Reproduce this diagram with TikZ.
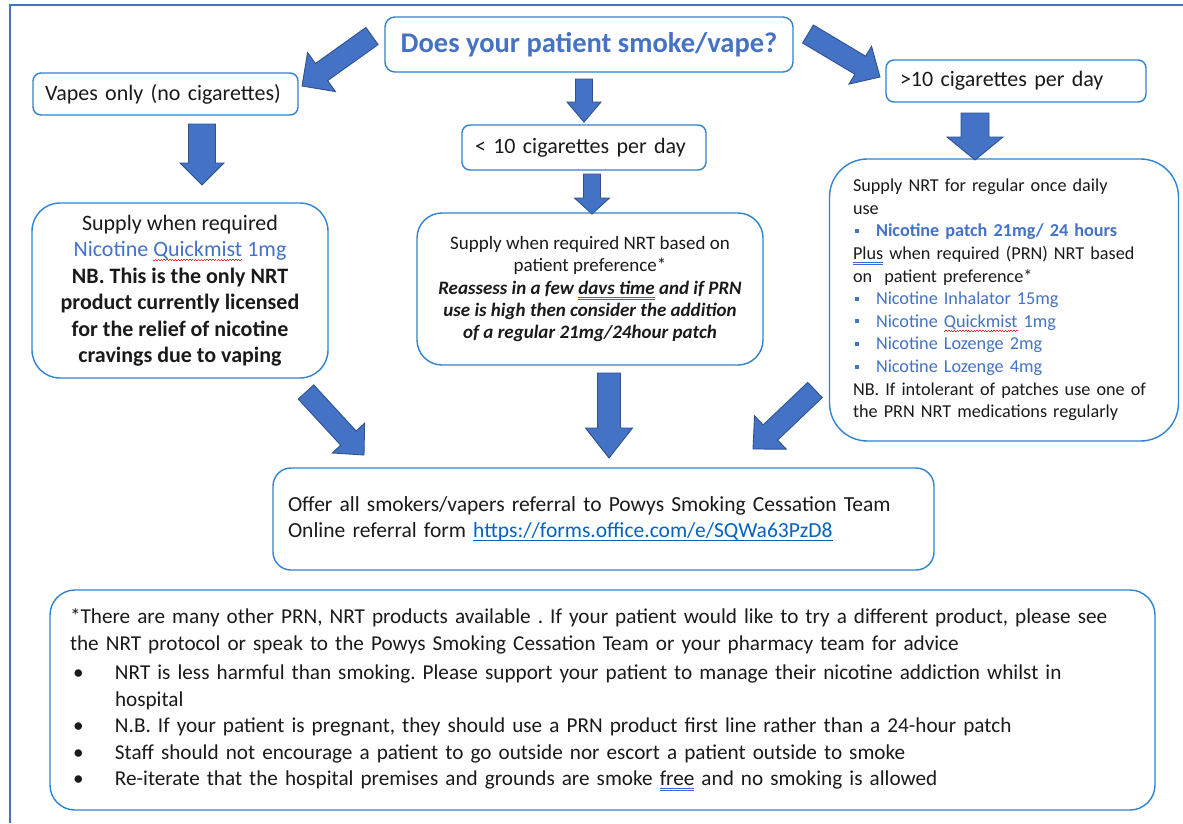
\documentclass[tikz,border=0pt]{standalone}
\usepackage{fontspec}
\setmainfont{Carlito}
\usetikzlibrary{calc}
\definecolor{boxblue}{HTML}{2F83D0}
\definecolor{txtblue}{HTML}{4472C4}
\definecolor{arrfill}{HTML}{4472C4}
\definecolor{arrline}{HTML}{2F528F}
\definecolor{frameblue}{HTML}{4472C4}
\definecolor{linkblue}{HTML}{0563C1}
\definecolor{txt}{HTML}{1A1A1A}
\definecolor{spellred}{HTML}{E03030}
\definecolor{gramblue}{HTML}{3A66E0}
\newsavebox\ulbox
\newcommand\redwave[1]{\leavevmode\sbox\ulbox{#1}\rlap{\textcolor{spellred}{\lower4.5pt\hbox to \wd\ulbox{\xleaders\hbox{\rule[0pt]{1.4pt}{0.8pt}\rule[1.2pt]{1.4pt}{0.8pt}}\hfill}}}\usebox\ulbox}
\newcommand\bluedbl[1]{\leavevmode\sbox\ulbox{#1}\rlap{\textcolor{gramblue}{\rule[-3.6pt]{\wd\ulbox}{0.9pt}}}\rlap{\textcolor{gramblue}{\rule[-5.8pt]{\wd\ulbox}{0.9pt}}}\usebox\ulbox}
\newcommand\linkul[1]{\leavevmode\sbox\ulbox{#1}\rlap{\rule[-2.8pt]{\wd\ulbox}{1pt}}\usebox\ulbox}
\newcommand\sqbul{\leavevmode\makebox[23pt][l]{\hspace{2pt}\rule[4pt]{4pt}{4pt}}}
\newcommand\bbul{\leavevmode\hspace*{3pt}\makebox[42pt][l]{•}}
\newcommand\blockarrow[5]{%
  \coordinate (hb) at ($(#2)!#5pt!(#1)$);
  \draw[blockarr] ($(#1)!#3pt!90:(#2)$) -- ($(hb)!#3pt!90:(#2)$) -- ($(hb)!#4pt!90:(#2)$) -- (#2) -- ($(hb)!#4pt!-90:(#2)$) -- ($(hb)!#3pt!-90:(#2)$) -- ($(#1)!#3pt!-90:(#2)$) -- cycle;}
\tikzset{
  box/.style={draw=boxblue, line width=1.4pt, fill=white, text=txt, inner sep=0pt, font=\fontsize{22}{26.5}\selectfont\frenchspacing},
  smallbox/.style={box, rounded corners=8pt},
  blockarr/.style={fill=arrfill, draw=arrline, line width=0.9pt, line join=miter},
}
\begin{document}
\frenchspacing
\begin{tikzpicture}[x=1pt,y=-1pt]
\useasboundingbox (0,0) rectangle (1183,823);
\fill[white] (0,0) rectangle (1183,823);
\draw[frameblue, line width=2.3pt] (10,823) -- (10,5) -- (1183,5);

% boxes
\node[box, rounded corners=10pt, minimum width=408pt, minimum height=55pt, text=txtblue, font=\fontsize{28.5}{32}\selectfont\bfseries] (title) at (589,44.5) {Does your patient smoke/vape?};
\node[smallbox, minimum width=265pt, minimum height=42pt, text width=241pt, align=left] (vapes) at (165.5,94) {Vapes only (no cigarettes)};
\node[smallbox, minimum width=244pt, minimum height=45pt, text width=218pt, align=left] (lt10) at (584,147.5) {< 10 cigarettes per day};
\node[smallbox, minimum width=260pt, minimum height=42pt, text width=232pt, align=left] (gt10) at (1016,81) {>10 cigarettes per day};

\node[box, rounded corners=28pt, minimum width=296pt, minimum height=175pt, align=center] (leftbox) at (180,290.5) {Supply when required\\
{\color{txtblue}Nicotine \redwave{Quickmist} 1mg}\\
\textbf{NB. This is the only NRT}\\
\textbf{product currently licensed}\\
\textbf{for the relief of nicotine}\\
\textbf{cravings due to vaping}};

\node[box, rounded corners=25pt, minimum width=346pt, minimum height=152pt, align=center, font=\fontsize{19}{22.3}\selectfont\frenchspacing] (midbox) at (590,289) {Supply when required NRT based on\\
patient preference*\\
\textbf{\textit{Reassess in a few \bluedbl{davs time} and if PRN}}\\
\textbf{\textit{use is high then consider the addition}}\\
\textbf{\textit{of a regular 21mg/24hour patch}}};

\node[box, rounded corners=38pt, minimum width=349pt, minimum height=282pt, text width=302pt, align=left, font=\fontsize{18.2}{22.6}\selectfont\frenchspacing] (rightbox) at (1004,300) {Supply NRT for regular once daily\\
use\\
{\color{txtblue}\bfseries\sqbul Nicotine patch 21mg/ 24 hours}\\
\bluedbl{Plus} when required (PRN) NRT based\\
on\ \ patient preference*\\
{\color{txtblue}\sqbul Nicotine Inhalator 15mg}\\
{\color{txtblue}\sqbul Nicotine \redwave{Quickmist} 1mg}\\
{\color{txtblue}\sqbul Nicotine Lozenge 2mg}\\
{\color{txtblue}\sqbul Nicotine Lozenge 4mg}\\
NB. If intolerant of patches use one of\\
the PRN NRT medications regularly};

\node[box, rounded corners=18pt, minimum width=661pt, minimum height=102pt, text width=631pt, align=left, font=\fontsize{21.5}{26}\selectfont\frenchspacing] (refbox) at (603.5,519) {Offer all smokers/vapers referral to Powys Smoking Cessation Team\\
Online referral form {\color{linkblue}\linkul{https://forms.office.com/e/SQWa63PzD8}}};

\node[box, rounded corners=25pt, minimum width=1105pt, minimum height=220pt, text width=1065pt, align=left, font=\fontsize{21.2}{26.4}\selectfont\frenchspacing] (notes) at (602.5,700) {*There are many other PRN, NRT products available . If your patient would like to try a different product, please see\\
the NRT protocol or speak to the Powys Smoking Cessation Team or your pharmacy team for advice\\[3.5pt]
\bbul NRT is less harmful than smoking. Please support your patient to manage their nicotine addiction whilst in\\
\hspace*{45pt}hospital\\
\bbul N.B. If your patient is pregnant, they should use a PRN product first line rather than a 24-hour patch\\
\bbul Staff should not encourage a patient to go outside nor escort a patient outside to smoke\\
\bbul Re-iterate that the hospital premises and grounds are smoke \bluedbl{free} and no smoking is allowed};

% arrow end points
\coordinate (a1t) at (372,36);   \coordinate (a1h) at (302,86);
\coordinate (a2t) at (808,34);   \coordinate (a2h) at (880,77);
\coordinate (a3t) at (584,79);   \coordinate (a3h) at (584,122);
\coordinate (a4t) at (202,124);  \coordinate (a4h) at (202,185);
\coordinate (a5t) at (975,113);  \coordinate (a5h) at (975,160);
\coordinate (a6t) at (592,174);  \coordinate (a6h) at (592,214);
\coordinate (a7t) at (306,392);  \coordinate (a7h) at (364,455);
\coordinate (a8t) at (609,373);  \coordinate (a8h) at (609,458);
\coordinate (a9t) at (815,390);  \coordinate (a9h) at (753,449);

\blockarrow{a1t}{a1h}{10.5}{24}{24}
\blockarrow{a2t}{a2h}{10.5}{22}{23}
\blockarrow{a3t}{a3h}{8.5}{17}{20}
\blockarrow{a4t}{a4h}{13.5}{22}{22}
\blockarrow{a5t}{a5h}{14}{28}{23}
\blockarrow{a6t}{a6h}{8.5}{17.5}{16}
\blockarrow{a7t}{a7h}{10.5}{22}{23}
\blockarrow{a8t}{a8h}{11.5}{23.5}{30}
\blockarrow{a9t}{a9h}{10.5}{23}{24}
\end{tikzpicture}
\end{document}
